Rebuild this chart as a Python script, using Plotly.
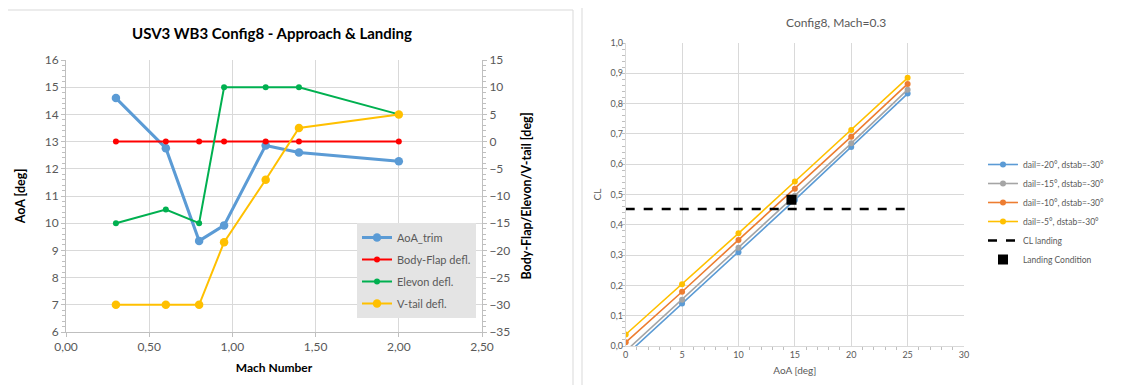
import plotly.graph_objects as go

# ---------------- Left chart data ----------------
mach = [0.3, 0.6, 0.8, 0.95, 1.2, 1.4, 2.0]
aoa_trim = [14.6, 12.76, 9.35, 9.92, 12.86, 12.6, 12.28]
body_flap = [0, 0, 0, 0, 0, 0, 0]
elevon = [-15, -12.5, -15, 10, 10, 10, 5]
vtail = [-30, -30, -30, -18.5, -7, 2.5, 5]
left_x_ticks = [0, 0.5, 1.0, 1.5, 2.0, 2.5]
left_x_labels = ["0,00", "0,50", "1,00", "1,50", "2,00", "2,50"]

# ---------------- Right chart data ----------------
aoa = [0, 5, 10, 15, 20, 25]
cl_m20 = [-0.031, 0.140, 0.309, 0.482, 0.657, 0.833]
cl_m15 = [-0.017, 0.153, 0.324, 0.496, 0.669, 0.846]
cl_m10 = [0.012, 0.179, 0.350, 0.519, 0.691, 0.865]
cl_m5 = [0.038, 0.204, 0.372, 0.543, 0.713, 0.885]
cl_landing_x = [0, 25]
cl_landing_y = [0.452, 0.452]
landing_aoa = [14.7]
landing_cl = [0.483]
right_y_ticks = [0.0, 0.1, 0.2, 0.3, 0.4, 0.5, 0.6, 0.7, 0.8, 0.9, 1.0]
right_y_labels = ["0,0", "0,1", "0,2", "0,3", "0,4", "0,5", "0,6", "0,7", "0,8", "0,9", "1,0"]

OFF = 8  # default page body margin
W, H = 1124 - OFF, 385 - OFF
FONT = "Lato"
TICKC = "#595959"
GRID = "#d9d9d9"

fig = go.Figure()

# Left chart traces
left_series = [("AoA_trim", aoa_trim, "#5B9BD5", 3, 8.5, "y"),
               ("Body-Flap defl.", body_flap, "#FF0000", 2, 6, "y2"),
               ("Elevon defl.", elevon, "#00B050", 2, 6, "y2"),
               ("V-tail defl.", vtail, "#FFC000", 2, 8.5, "y2")]
for i, (name, ys, col, lw, ms, ya) in enumerate(left_series):
    fig.add_trace(go.Scatter(x=mach, y=ys, name=name, mode="lines+markers",
                             line=dict(color=col, width=lw), marker=dict(size=ms),
                             xaxis="x", yaxis=ya, legend="legend", legendgroup=f"L{i}"))

# Right chart traces
for name, ys, col in [("dail=-20°, dstab=-30°", cl_m20, "#5B9BD5"),
                      ("dail=-15°, dstab=-30°", cl_m15, "#A5A5A5"),
                      ("dail=-10°, dstab=-30°", cl_m10, "#ED7D31"),
                      ("dail=-5°, dstab=-30°", cl_m5, "#FFC000")]:
    fig.add_trace(go.Scatter(x=aoa, y=ys, name=name, mode="lines+markers",
                             line=dict(color=col, width=1.6), marker=dict(size=6),
                             xaxis="x3", yaxis="y3", legend="legend2"))
fig.add_trace(go.Scatter(x=cl_landing_x, y=cl_landing_y, name="CL landing", mode="lines",
                         line=dict(color="black", width=2.5, dash="dash"),
                         xaxis="x3", yaxis="y3", legend="legend2"))
fig.add_trace(go.Scatter(x=landing_aoa, y=landing_cl, name="Landing Condition", mode="markers",
                         marker=dict(color="black", size=10, symbol="square"),
                         xaxis="x3", yaxis="y3", legend="legend2"))

def px_x(p):
    return (p - OFF) / W

def px_y(p):
    return 1 - (p - OFF) / H

axis_common = dict(showline=True, linecolor="#bfbfbf", gridcolor=GRID, zeroline=False,
                   ticks="outside", tickcolor="#bfbfbf", ticklen=4, automargin=False,
                   tickfont=dict(family=FONT, size=12, color=TICKC))

fig.update_layout(
    width=W, height=H, margin=dict(l=0, r=0, t=0, b=0),
    paper_bgcolor="white", plot_bgcolor="white",
    font=dict(family=FONT),
    xaxis=dict(domain=[px_x(66), px_x(482)], range=[0, 2.5], tickvals=left_x_ticks,
               ticktext=left_x_labels, anchor="y",
               title=dict(text="<b>Mach Number</b>", font=dict(size=12, color="black"), standoff=10),
               **axis_common),
    yaxis=dict(domain=[px_y(332), px_y(60)], range=[6, 16], dtick=1, anchor="x",
               title=dict(text="<b>AoA [deg]</b>", font=dict(size=12.5, color="black"), standoff=16),
               minor=dict(ticks="outside", ticklen=3, dtick=0.2, tickcolor="#bfbfbf", showgrid=False),
               **axis_common),
    yaxis2=dict(overlaying="y", side="right", range=[-35, 15], dtick=5, anchor="x",
                showgrid=False, automargin=False,
                title=dict(text="<b>Body-Flap/Elevon/V-tail [deg]</b>", font=dict(size=12.5, color="black"), standoff=12),
                minor=dict(ticks="outside", ticklen=3, dtick=1, tickcolor="#bfbfbf"),
                showline=True, linecolor="#bfbfbf", zeroline=False, ticks="outside",
                tickcolor="#bfbfbf", ticklen=4,
                tickfont=dict(family=FONT, size=12, color=TICKC)),
    xaxis3=dict(domain=[px_x(625.7), px_x(964)], range=[0, 30], dtick=5, anchor="y3",
                automargin=False,
                title=dict(text="AoA [deg]", font=dict(size=10, color=TICKC), standoff=8),
                minor=dict(ticks="outside", ticklen=3, dtick=1, tickcolor="#bfbfbf"),
                showline=True, linecolor="#d9d9d9", gridcolor=GRID, zeroline=False,
                ticks="", tickfont=dict(family=FONT, size=9, color=TICKC)),
    yaxis3=dict(domain=[px_y(346), px_y(43)], range=[0, 1], tickvals=right_y_ticks,
                ticktext=right_y_labels, anchor="x3", automargin=False,
                title=dict(text="CL", font=dict(size=10, color=TICKC), standoff=6),
                minor=dict(ticks="outside", ticklen=3, dtick=0.02, tickcolor="#bfbfbf"),
                showline=True, linecolor="#d9d9d9", gridcolor=GRID, zeroline=False,
                ticks="", tickfont=dict(family=FONT, size=9, color=TICKC)),
    legend=dict(x=px_x(357), y=px_y(223), xanchor="left", yanchor="top",
                bgcolor="#e4e4e4", font=dict(family=FONT, size=11, color=TICKC),
                itemwidth=30, tracegroupgap=3),
    legend2=dict(x=px_x(983), y=px_y(150), xanchor="left", yanchor="top",
                 bgcolor="rgba(0,0,0,0)", font=dict(family=FONT, size=8.5, color=TICKC),
                 itemwidth=30, tracegroupgap=0),
    annotations=[
        dict(text="<b>USV3 WB3 Config8 - Approach & Landing</b>", x=px_x(272), y=px_y(33),
             xref="paper", yref="paper", showarrow=False, xanchor="center", yanchor="middle",
             font=dict(family=FONT, size=15, color="black")),
        dict(text="Config8, Mach=0.3", x=px_x(836), y=px_y(23),
             xref="paper", yref="paper", showarrow=False, xanchor="center", yanchor="middle",
             font=dict(family=FONT, size=12, color=TICKC)),
    ],
    shapes=[
        dict(type="rect", xref="paper", yref="paper", x0=px_x(7), x1=px_x(573),
             y0=-0.05, y1=px_y(10), line=dict(color="#d9d9d9", width=1)),
        dict(type="rect", xref="paper", yref="paper", x0=px_x(582), x1=1.05,
             y0=-0.05, y1=px_y(6), line=dict(color="#d9d9d9", width=1)),
    ],
)

fig.write_html("out.html")
